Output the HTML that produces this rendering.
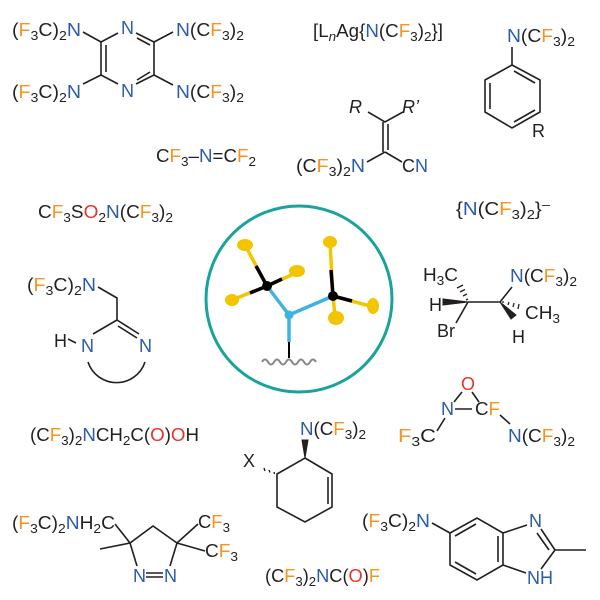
<!DOCTYPE html>
<html><head><meta charset="utf-8"><style>
html,body{margin:0;padding:0;background:#fff}
svg{display:block}
text{font-family:"Liberation Sans",Arial,sans-serif;font-size:18px;fill:#231f20}
.o{fill:#f7941d}.b{fill:#2a5caa}.r{fill:#e8322b}
.s{font-size:13px}
.k{stroke:#231f20;stroke-width:1.6;fill:none}
.w{fill:#231f20;stroke:#231f20;stroke-width:1}
</style></head><body>
<svg width="600" height="600" viewBox="0 0 600 600" xmlns="http://www.w3.org/2000/svg">
<g class="k">
<polyline points="118,33 101,42 101,75 118,84"/>
<polyline points="136,33 154,42 154,75 136,84"/>
<line x1="106" y1="45" x2="106" y2="72"/>
<line x1="137" y1="38" x2="150" y2="45"/>
<line x1="137" y1="80" x2="150" y2="72"/>
<line x1="83" y1="32" x2="101" y2="42"/><line x1="83" y1="84" x2="101" y2="75"/>
<line x1="154" y1="42" x2="173" y2="32"/><line x1="154" y1="75" x2="173" y2="85"/>
<line x1="512" y1="47" x2="512" y2="65"/>
<polygon points="512,65 540,80 540,112 512,128 485,112 485,80"/>
<line x1="490" y1="83" x2="490" y2="109"/>
<line x1="514" y1="71" x2="535" y2="83"/>
<line x1="514" y1="122" x2="535" y2="110"/>
<polyline points="368,112 385,122 403,112"/>
<line x1="383" y1="122" x2="383" y2="152"/><line x1="388" y1="124" x2="388" y2="150"/>
<line x1="385" y1="152" x2="367" y2="162"/><line x1="385" y1="152" x2="402" y2="162"/>
<polyline points="98,287 117,298 117,320 93,334"/>
<line x1="117" y1="320" x2="139" y2="334"/><line x1="118" y1="326" x2="137" y2="338"/>
<line x1="68" y1="339" x2="76" y2="343"/>
<path d="M88,362 A30,30 0 0 0 145,362"/>
<line x1="468" y1="302" x2="500" y2="302"/>
<line x1="468" y1="302" x2="456" y2="323"/>
<line x1="500" y1="302" x2="512" y2="287"/>
<path d="M466,300 l2,-1 M463,296 l4,-2 M460,292 l5,-2.5 M457,288 l6,-3" stroke-width="1.3"/>
<path d="M503,303 l0,-2 M508,305 l1,-3 M513,307 l1,-4 M518,309 l1,-5" stroke-width="1.3"/>
<line x1="462" y1="392" x2="454" y2="402"/><line x1="472" y1="392" x2="479" y2="402"/>
<line x1="455" y1="409" x2="472" y2="409"/>
<line x1="437" y1="431" x2="445" y2="418"/><line x1="500" y1="415" x2="510" y2="424"/>
<polygon points="305,458 332,474 332,507 305,522 277,507 277,474"/>
<line x1="328" y1="477" x2="328" y2="504"/>
<path d="M274,472 l0.5,2 M269,470 l1,2.5 M264,468 l1,3" stroke-width="1.4"/>
<polyline points="115,524 130,543 153,526 177,543 198,524"/>
<line x1="177" y1="543" x2="205" y2="551"/>
<line x1="100" y1="549" x2="130" y2="543"/>
<line x1="130" y1="543" x2="137" y2="566"/><line x1="177" y1="543" x2="170" y2="566"/>
<line x1="146" y1="573" x2="163" y2="573"/><line x1="146" y1="577" x2="163" y2="577"/>
<line x1="432" y1="523" x2="450" y2="533"/>
<polygon points="450,533 477,518 503,533 503,565 477,580 450,565"/>
<line x1="455" y1="536" x2="476" y2="524"/><line x1="498" y1="536" x2="498" y2="562"/><line x1="455" y1="562" x2="476" y2="574"/>
<line x1="503" y1="533" x2="527" y2="525"/>
<line x1="541" y1="529" x2="555" y2="550"/><line x1="537" y1="533" x2="549" y2="550"/>
<line x1="555" y1="550" x2="541" y2="569"/><line x1="503" y1="565" x2="526" y2="573"/>
<line x1="555" y1="550" x2="586" y2="550"/>
</g>
<polygon class="w" points="443,305 468,302 443,299"/>
<polygon class="w" points="500,302 511,319 516,315"/>
<polygon class="w" points="302,440 308,440 305,458"/>

<text x="12" y="36" textLength="69" lengthAdjust="spacingAndGlyphs">(<tspan class="o">F</tspan><tspan class="s" dy="4">3</tspan><tspan dy="-4">C)</tspan><tspan class="s" dy="4">2</tspan><tspan class="b" dy="-4">N</tspan></text>
<text x="12" y="98" textLength="69" lengthAdjust="spacingAndGlyphs">(<tspan class="o">F</tspan><tspan class="s" dy="4">3</tspan><tspan dy="-4">C)</tspan><tspan class="s" dy="4">2</tspan><tspan class="b" dy="-4">N</tspan></text>
<text x="176" y="36" textLength="68" lengthAdjust="spacingAndGlyphs"><tspan class="b">N</tspan>(C<tspan class="o">F</tspan><tspan class="s" dy="4">3</tspan><tspan dy="-4">)</tspan><tspan class="s" dy="4">2</tspan></text>
<text x="176" y="98" textLength="68" lengthAdjust="spacingAndGlyphs"><tspan class="b">N</tspan>(C<tspan class="o">F</tspan><tspan class="s" dy="4">3</tspan><tspan dy="-4">)</tspan><tspan class="s" dy="4">2</tspan></text>
<text class="b" x="121" y="34">N</text>
<text class="b" x="121" y="97">N</text>
<text x="156" y="162" textLength="100" lengthAdjust="spacingAndGlyphs">C<tspan class="o">F</tspan><tspan class="s" dy="4">3</tspan><tspan dy="-4">–</tspan><tspan class="b">N</tspan>=C<tspan class="o">F</tspan><tspan class="s" dy="4">2</tspan></text>
<text x="313" y="37" textLength="130" lengthAdjust="spacingAndGlyphs">[L<tspan class="s" font-style="italic" dy="4">n</tspan><tspan dy="-4">Ag{</tspan><tspan class="b">N</tspan>(C<tspan class="o">F</tspan><tspan class="s" dy="4">3</tspan><tspan dy="-4">)</tspan><tspan class="s" dy="4">2</tspan><tspan dy="-4">}]</tspan></text>
<text x="507" y="42" textLength="68" lengthAdjust="spacingAndGlyphs"><tspan class="b">N</tspan>(C<tspan class="o">F</tspan><tspan class="s" dy="4">3</tspan><tspan dy="-4">)</tspan><tspan class="s" dy="4">2</tspan></text>
<text x="532" y="137">R</text>
<text x="349" y="113" font-style="italic">R</text>
<text x="402" y="113" font-style="italic">R’</text>
<text x="296" y="172" textLength="69" lengthAdjust="spacingAndGlyphs">(C<tspan class="o">F</tspan><tspan class="s" dy="4">3</tspan><tspan dy="-4">)</tspan><tspan class="s" dy="4">2</tspan><tspan class="b" dy="-4">N</tspan></text>
<text x="402" y="172">C<tspan class="b">N</tspan></text>
<text x="38" y="218" textLength="135" lengthAdjust="spacingAndGlyphs">C<tspan class="o">F</tspan><tspan class="s" dy="4">3</tspan><tspan dy="-4">S</tspan><tspan class="r">O</tspan><tspan class="s" dy="4">2</tspan><tspan class="b" dy="-4">N</tspan>(C<tspan class="o">F</tspan><tspan class="s" dy="4">3</tspan><tspan dy="-4">)</tspan><tspan class="s" dy="4">2</tspan></text>
<text x="456" y="215" textLength="94" lengthAdjust="spacingAndGlyphs">{<tspan class="b">N</tspan>(C<tspan class="o">F</tspan><tspan class="s" dy="4">3</tspan><tspan dy="-4">)</tspan><tspan class="s" dy="4">2</tspan><tspan dy="-4">}</tspan><tspan class="s" dy="-6">–</tspan></text>
<text x="27" y="291" textLength="69" lengthAdjust="spacingAndGlyphs">(<tspan class="o">F</tspan><tspan class="s" dy="4">3</tspan><tspan dy="-4">C)</tspan><tspan class="s" dy="4">2</tspan><tspan class="b" dy="-4">N</tspan></text>
<text x="54" y="347">H</text>
<text class="b" x="81" y="352">N</text><text class="b" x="139" y="352">N</text>
<text x="30" y="441" textLength="169" lengthAdjust="spacingAndGlyphs">(C<tspan class="o">F</tspan><tspan class="s" dy="4">3</tspan><tspan dy="-4">)</tspan><tspan class="s" dy="4">2</tspan><tspan class="b" dy="-4">N</tspan>CH<tspan class="s" dy="4">2</tspan><tspan dy="-4">C(</tspan><tspan class="r">O</tspan>)<tspan class="r">O</tspan>H</text>

<circle cx="299" cy="299" r="93" style="stroke:#1aa39a;stroke-width:3;fill:none"/>
<g style="stroke-width:3.5;fill:none">
<line x1="245" y1="245" x2="267" y2="286" style="stroke:#f2c500"/>
<line x1="298" y1="272" x2="267" y2="286" style="stroke:#f2c500"/>
<line x1="232" y1="300" x2="267" y2="286" style="stroke:#f2c500"/>
<line x1="330" y1="242" x2="333" y2="296" style="stroke:#f2c500"/>
<line x1="370" y1="306" x2="333" y2="296" style="stroke:#f2c500"/>
<line x1="335" y1="316" x2="333" y2="296" style="stroke:#f2c500"/>
<line x1="256" y1="266" x2="267" y2="286" style="stroke:#000"/>
<line x1="282" y1="279" x2="267" y2="286" style="stroke:#000"/>
<line x1="250" y1="293" x2="267" y2="286" style="stroke:#000"/>
<line x1="331" y1="270" x2="333" y2="296" style="stroke:#000"/>
<line x1="352" y1="301" x2="333" y2="296" style="stroke:#000"/>
<line x1="267" y1="286" x2="289" y2="315" style="stroke:#3fb3e0"/>
<line x1="333" y1="296" x2="289" y2="315" style="stroke:#3fb3e0"/>
<line x1="289" y1="315" x2="289" y2="342" style="stroke:#3fb3e0"/>
<line x1="289" y1="342" x2="289" y2="358" style="stroke:#000;stroke-width:2"/>
</g>
<g style="fill:#f2c500;stroke:none">
<ellipse cx="245" cy="245" rx="8" ry="6"/><ellipse cx="297" cy="271" rx="8" ry="6"/><ellipse cx="232" cy="300" rx="7" ry="6"/>
<ellipse cx="330" cy="242" rx="7" ry="6"/><ellipse cx="373" cy="306" rx="6" ry="8"/><ellipse cx="336" cy="318" rx="8" ry="7"/>
</g>
<circle cx="267" cy="286" r="5" style="fill:#000"/><circle cx="333" cy="296" r="5" style="fill:#000"/>
<circle cx="289" cy="315" r="4.5" style="fill:#3fb3e0"/>
<path d="M262,362 q3,-5 6,0 t6,0 t6,0 t6,0 t6,0 t6,0 t6,0 t6,0 t6,0" style="stroke:#888;stroke-width:2;fill:none"/>

<text x="423" y="281" textLength="35" lengthAdjust="spacingAndGlyphs">H<tspan class="s" dy="4">3</tspan><tspan dy="-4">C</tspan></text>
<text x="510" y="282" textLength="67" lengthAdjust="spacingAndGlyphs"><tspan class="b">N</tspan>(C<tspan class="o">F</tspan><tspan class="s" dy="4">3</tspan><tspan dy="-4">)</tspan><tspan class="s" dy="4">2</tspan></text>
<text x="429" y="311">H</text><text x="437" y="337">Br</text><text x="512" y="343">H</text>
<text x="525" y="319" textLength="35" lengthAdjust="spacingAndGlyphs">CH<tspan class="s" dy="4">3</tspan></text>
<text class="r" x="461" y="390">O</text>
<text class="b" x="441" y="415">N</text>
<text x="475" y="415" textLength="25" lengthAdjust="spacingAndGlyphs">C<tspan class="o">F</tspan></text>
<text x="398" y="442" textLength="38" lengthAdjust="spacingAndGlyphs"><tspan class="o">F</tspan><tspan class="s" dy="4">3</tspan><tspan dy="-4">C</tspan></text>
<text x="508" y="442" textLength="67" lengthAdjust="spacingAndGlyphs"><tspan class="b">N</tspan>(C<tspan class="o">F</tspan><tspan class="s" dy="4">3</tspan><tspan dy="-4">)</tspan><tspan class="s" dy="4">2</tspan></text>
<text x="300" y="435" textLength="66" lengthAdjust="spacingAndGlyphs"><tspan class="b">N</tspan>(C<tspan class="o">F</tspan><tspan class="s" dy="4">3</tspan><tspan dy="-4">)</tspan><tspan class="s" dy="4">2</tspan></text>
<text x="243" y="467">X</text>
<text x="12" y="529" textLength="103" lengthAdjust="spacingAndGlyphs">(<tspan class="o">F</tspan><tspan class="s" dy="4">3</tspan><tspan dy="-4">C)</tspan><tspan class="s" dy="4">2</tspan><tspan class="b" dy="-4">N</tspan>H<tspan class="s" dy="4">2</tspan><tspan dy="-4">C</tspan></text>
<text x="198" y="528" textLength="32" lengthAdjust="spacingAndGlyphs">C<tspan class="o">F</tspan><tspan class="s" dy="4">3</tspan></text>
<text x="205" y="557" textLength="33" lengthAdjust="spacingAndGlyphs">C<tspan class="o">F</tspan><tspan class="s" dy="4">3</tspan></text>
<text class="b" x="133" y="582">N</text><text class="b" x="164" y="582">N</text>
<text x="265" y="582" textLength="115" lengthAdjust="spacingAndGlyphs">(C<tspan class="o">F</tspan><tspan class="s" dy="4">3</tspan><tspan dy="-4">)</tspan><tspan class="s" dy="4">2</tspan><tspan class="b" dy="-4">N</tspan>C(<tspan class="r">O</tspan>)<tspan class="o">F</tspan></text>
<text x="362" y="527" textLength="68" lengthAdjust="spacingAndGlyphs">(<tspan class="o">F</tspan><tspan class="s" dy="4">3</tspan><tspan dy="-4">C)</tspan><tspan class="s" dy="4">2</tspan><tspan class="b" dy="-4">N</tspan></text>
<text class="b" x="529" y="527">N</text>
<text x="527" y="584"><tspan class="b">NH</tspan></text>
</svg>
</body></html>
